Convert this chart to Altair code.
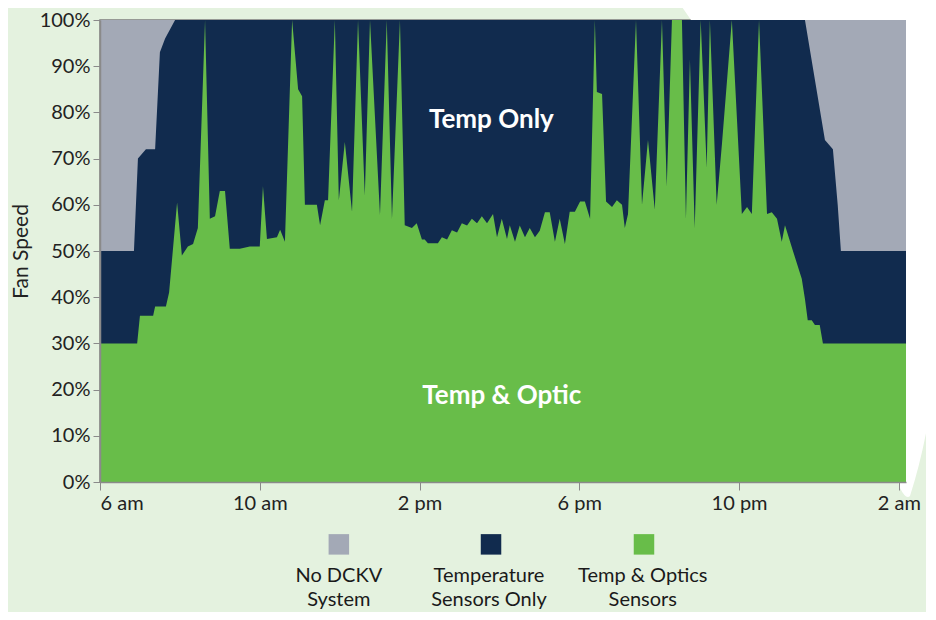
import altair as alt
import pandas as pd

# ---------------- data ----------------
# time axis: clock hours (6 = 6 am, 26 = 2 am next day)
tick_hours = [6, 10, 14, 18, 22, 26]
tick_labels = ["6 am", "10 am", "2 pm", "6 pm", "10 pm", "2 am"]

# No DCKV system: fans always at 100%
hours_nodckv = [6.00, 26.18]
fan_nodckv = [100, 100]

# Temperature sensors only
hours_temp = [6.00, 6.85, 6.95, 7.15, 7.38, 7.50, 7.63, 7.88,
              23.65, 24.15, 24.35, 24.47, 24.55, 26.18]
fan_temp = [50, 50, 70, 72, 72, 93, 96, 100,
            100, 74, 72, 60, 50, 50]

# Temp & optics sensors
hours_optic = [6.00, 6.93, 7.00, 7.33, 7.38, 7.65, 7.73, 7.93, 8.05, 8.20,
               8.33, 8.45, 8.63, 8.75, 8.88, 9.00, 9.13, 9.25, 9.50, 9.75,
               10.00, 10.08, 10.18, 10.43, 10.51, 10.63, 10.81, 10.96, 11.06, 11.13,
               11.43, 11.51, 11.63, 11.71, 11.88, 11.98, 12.13, 12.31, 12.46, 12.63,
               12.76, 13.01, 13.18, 13.31, 13.51, 13.63, 13.81, 13.93, 14.06, 14.13,
               14.21, 14.46, 14.56, 14.69, 14.81, 14.94, 15.06, 15.19, 15.31, 15.44,
               15.56, 15.69, 15.84, 15.94, 16.06, 16.19, 16.26, 16.39, 16.51, 16.64,
               16.76, 16.89, 17.01, 17.14, 17.26, 17.39, 17.51, 17.64, 17.76, 17.89,
               18.02, 18.14, 18.27, 18.39, 18.44, 18.57, 18.67, 18.82, 18.94, 19.07,
               19.14, 19.22, 19.42, 19.57, 19.72, 19.89, 20.07, 20.19, 20.32, 20.57,
               20.67, 20.77, 20.89, 21.04, 21.19, 21.27, 21.44, 21.57, 21.82, 22.07,
               22.20, 22.32, 22.50, 22.70, 22.82, 22.95, 23.07, 23.15, 23.35, 23.57,
               23.65, 23.72, 23.82, 23.90, 24.02, 24.10, 26.18]
fan_optic = [30, 30, 36, 36, 38, 38, 41, 60.5, 49, 51,
             51.5, 55, 100, 57, 57.5, 63, 63, 50.5, 50.5, 51,
             51, 64, 52.6, 53, 54.6, 52, 100, 85, 83.5, 60,
             60, 55.6, 61, 61, 100, 61, 73.6, 58.5, 100, 62,
             100, 57.8, 100, 57, 100, 55.6, 55, 56, 52.5, 52.5,
             51.7, 51.7, 53, 52.5, 54.5, 54, 56, 55.5, 57, 56,
             57.5, 56, 58, 53, 57, 52.6, 55.6, 52, 55.5, 53,
             55, 53, 54.4, 58.4, 58.4, 52, 57, 51.5, 58.5, 58.5,
             60.7, 60.7, 57, 100, 84.4, 84, 60.7, 59.5, 61, 60,
             55, 58, 100, 60, 74, 59, 100, 64, 100, 100,
             57, 91.5, 55, 100, 68, 100, 60, 73, 100, 58,
             59.5, 58, 100, 58, 58.4, 57, 52, 55.6, 50, 44,
             39.6, 35, 35, 34, 34, 30, 30]

# in-chart annotations
note_text = ["Temp Only", "Temp & Optic"]
note_hours = [15.80, 16.06]
note_fan = [76.6, 16.9]

# legend (drawn below the axis)
legend_names = ["No DCKV System", "Temperature Sensors Only", "Temp & Optics Sensors"]
legend_line1 = ["No DCKV", "Temperature", "Temp & Optics"]
legend_line2 = ["System", "Sensors Only", "Sensors"]
legend_colors = ["#A3A9B6", "#112B4E", "#68BD49"]
legend_hours = [11.98, 15.79, 19.62]
legend_text_hours = [11.98, 15.74, 19.59]
legend_square_fan = [-13.5]
legend_line_fan = [-21.7, -26.9]

# ---------------- chart ----------------
FONT = "Lato"
TXT = "#222222"
AX = "#8a8a8a"

label_expr = " : ".join(
    f"datum.value == {h} ? '{l}'" for h, l in zip(tick_hours, tick_labels)
) + " : ''"

x_enc = alt.X(
    "hour:Q",
    scale=alt.Scale(domain=[6, 26.18], nice=False, zero=False),
    axis=alt.Axis(
        values=tick_hours, labelExpr=label_expr, title=None, grid=False, zindex=1,
        labelFont=FONT, labelFontSize=20, labelColor=TXT, labelPadding=3,
        tickColor=AX, tickSize=8, tickWidth=1, domainColor=AX, domainWidth=1.5,
    ),
)
y_enc = alt.Y(
    "fan:Q",
    scale=alt.Scale(domain=[0, 100], nice=False),
    axis=alt.Axis(
        values=list(range(0, 101, 10)), labelExpr="datum.value + '%'",
        title="Fan Speed", grid=False, zindex=1,
        labelFont=FONT, labelFontSize=20, labelColor=TXT, labelPadding=3,
        tickColor=AX, tickSize=7, tickWidth=1, domainColor=AX, domainWidth=1.5,
        titleFont=FONT, titleFontSize=21, titleFontWeight="normal",
        titleColor=TXT, titlePadding=8,
    ),
)

df_nodckv = pd.DataFrame({"hour": hours_nodckv, "fan": fan_nodckv})
df_temp = pd.DataFrame({"hour": hours_temp, "fan": fan_temp})
df_optic = pd.DataFrame({"hour": hours_optic, "fan": fan_optic})
df_note = pd.DataFrame({"hour": note_hours, "fan": note_fan, "text": note_text})
df_leg = pd.DataFrame({"hour": legend_hours, "fan": legend_square_fan * 3,
                       "name": legend_names})
rows = []
for h, l1, l2 in zip(legend_text_hours, legend_line1, legend_line2):
    rows.append({"hour": h, "fan": legend_line_fan[0], "text": l1})
    rows.append({"hour": h, "fan": legend_line_fan[1], "text": l2})
df_legtext = pd.DataFrame(rows)

# decorative white swoosh of the background (page decoration, not data)
swoosh = alt.Chart(pd.DataFrame({"k": [0]})).mark_point(
    shape="M 555 -40 L 577 -20 Q 700 150 800 468 Q 806 480 810 476 "
          "Q 828 420 836 347 Q 850 250 860 -40 Z",
    filled=True, fill="white", opacity=1, strokeWidth=0,
).encode(x=alt.value(0), y=alt.value(0), size=alt.value(4))

area_nodckv = alt.Chart(df_nodckv).mark_area(color="#A3A9B6", opacity=1).encode(x=x_enc, y=y_enc)
area_temp = alt.Chart(df_temp).mark_area(color="#112B4E", opacity=1).encode(x=x_enc, y=y_enc)
area_optic = alt.Chart(df_optic).mark_area(color="#68BD49", opacity=1).encode(x=x_enc, y=y_enc)

notes = alt.Chart(df_note).mark_text(
    font=FONT, fontSize=26, fontWeight="bold", color="white",
    align="center", baseline="alphabetic",
).encode(x=x_enc, y=y_enc, text="text:N")

leg_squares = alt.Chart(df_leg).mark_square(size=420, opacity=1, filled=True).encode(
    x=x_enc, y=y_enc,
    color=alt.Color("name:N", scale=alt.Scale(domain=legend_names, range=legend_colors),
                    legend=None),
)
leg_text = alt.Chart(df_legtext).mark_text(
    font=FONT, fontSize=20, color="#1a1a1a", align="center", baseline="alphabetic",
).encode(x=x_enc, y=y_enc, text="text:N")

chart = alt.layer(
    swoosh, area_nodckv, area_temp, area_optic, notes, leg_squares, leg_text
).properties(
    width=806, height=462,
    background="#E4F2DF",
    padding={"left": 92, "top": 12, "right": 20, "bottom": 130},
    autosize=alt.AutoSizeParams(type="none"),
).configure_view(stroke="#7d7d7d", strokeWidth=1.5)

chart.save("out.html", embed_options={"renderer": "svg", "actions": False})
